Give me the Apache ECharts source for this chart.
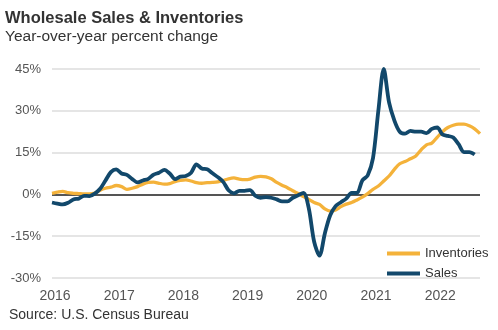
<!DOCTYPE html>
<html>
<head>
<meta charset="utf-8">
<script src="https://cdn.jsdelivr.net/npm/echarts@6/dist/echarts.min.js"></script>
<style>
html,body{margin:0;padding:0;background:#fff;}
#chart{width:498px;height:330px;}
</style>
</head>
<body>
<div id="chart"></div>
<script>
// Monthly year-over-year % change, starting Jan 2016 (index 0)
const yearLabels = ['2016','2017','2018','2019','2020','2021','2022'];
const yTicks = [-30, -15, 0, 15, 30, 45];

const sales = [
  -2.9, -3.3, -3.6, -3.0, -1.8, -1.5, -0.5, -0.6, 0.3, 2.0,
  5.0, 8.0, 9.0, 7.5, 7.0, 5.5, 4.3, 5.0, 5.6, 7.1,
  7.8, 8.8, 7.5, 5.5, 6.4, 6.6, 7.8, 10.8, 9.3, 9.0,
  7.6, 6.2, 4.5, 1.5, 0.4, 1.3, 1.3, 1.5, -0.5, -1.2,
  -1.0, -1.2, -1.8, -2.5, -2.5, -1.2, -0.3, 0.5, -5.0, -17.0,
  -22.0, -14.0, -7.5, -4.2, -2.8, -1.5, 0.5, 0.5, 5.0, 6.8,
  13.0, 30.0, 45.0, 33.0, 26.5, 22.5, 21.8, 22.8, 22.5, 22.5,
  22.0, 23.5, 24.0, 21.5, 21.0, 20.4, 18.0, 15.2, 15.2, 14.3
];

const inventories = [
  0.4, 0.8, 1.1, 0.6, 0.4, 0.3, 0.2, 0.2, 0.5, 1.5,
  2.2, 2.6, 3.2, 2.8, 1.8, 2.2, 2.8, 3.7, 4.3, 4.4,
  4.0, 3.7, 3.9, 4.6, 5.0, 5.2, 4.8, 4.2, 4.0, 4.2,
  4.3, 4.5, 5.0, 5.6, 5.9, 5.5, 5.3, 5.5, 6.2, 6.5,
  6.3, 5.6, 4.3, 3.3, 2.4, 1.3, 0.3, -0.8, -1.8, -2.9,
  -3.6, -5.2, -6.0, -5.6, -4.4, -3.5, -2.9, -2.0, -1.0, 0.3,
  1.8, 3.0, 4.8, 6.6, 9.0, 11.0, 11.8, 12.8, 13.8, 16.0,
  17.8, 18.4, 20.5, 22.5, 24.0, 24.8, 25.2, 25.2, 24.6, 23.5,
  21.8
];

const salesData = sales.map((v, i) => [i, v]);
const invData = inventories.map((v, i) => [i, v]);

const chart = echarts.init(document.getElementById('chart'), null, {renderer: 'canvas'});
const FONT = '"Liberation Sans", Arial, sans-serif';

chart.setOption({
  animation: false,
  backgroundColor: '#fff',
  textStyle: {fontFamily: FONT},
  graphic: [
    {type: 'text', left: 5, top: 10, style: {text: 'Wholesale Sales & Inventories', font: 'bold 16.5px ' + FONT, fill: '#333'}},
    {type: 'text', left: 5, top: 29, style: {text: 'Year-over-year percent change', font: '15.5px ' + FONT, fill: '#333'}},
    {type: 'text', left: 9, top: 308, style: {text: 'Source: U.S. Census Bureau', font: '14px ' + FONT, fill: '#333'}}
  ],
  grid: {left: 52, right: 18, top: 69, bottom: 52, containLabel: false},
  legend: {
    data: ['Inventories', 'Sales'],
    orient: 'vertical',
    left: 382,
    top: 242,
    icon: 'rect',
    itemWidth: 33,
    itemHeight: 4,
    itemGap: 7,
    textStyle: {fontSize: 13, color: '#333', fontFamily: FONT}
  },
  xAxis: {
    type: 'value',
    min: 0,
    max: 80,
    interval: 12,
    axisLine: {show: false},
    axisTick: {show: false},
    splitLine: {show: false},
    axisLabel: {
      showMaxLabel: false,
      margin: 11,
      fontSize: 14,
      color: '#555',
      fontFamily: FONT,
      padding: [0, 0, 0, 6],
      formatter: function (v) {
        const idx = Math.round(v / 12);
        return yearLabels[idx] !== undefined ? yearLabels[idx] : '';
      }
    }
  },
  yAxis: {
    type: 'value',
    min: yTicks[0],
    max: yTicks[yTicks.length - 1],
    interval: 15,
    axisLine: {show: false},
    axisTick: {show: false},
    axisLabel: {
      margin: 11,
      fontSize: 13,
      color: '#555',
      fontFamily: FONT,
      formatter: function (v) { return v + '%'; }
    },
    splitLine: {lineStyle: {color: '#dcdcdc', width: 1.5}}
  },
  series: [
    {
      name: 'Inventories',
      type: 'line',
      data: invData,
      showSymbol: false,
      smooth: 0.3,
      lineStyle: {color: '#F4B23A', width: 3.3},
      itemStyle: {color: '#F4B23A'},
      markLine: {
        silent: true,
        symbol: 'none',
        label: {show: false},
        lineStyle: {color: '#555', width: 2.2, type: 'solid'},
        data: [{yAxis: 0}],
        z: 1
      },
      z: 3
    },
    {
      name: 'Sales',
      type: 'line',
      data: salesData,
      showSymbol: false,
      smooth: 0.3,
      lineStyle: {color: '#12486B', width: 3.8},
      itemStyle: {color: '#12486B'},
      z: 4
    }
  ]
});
</script>
</body>
</html>
